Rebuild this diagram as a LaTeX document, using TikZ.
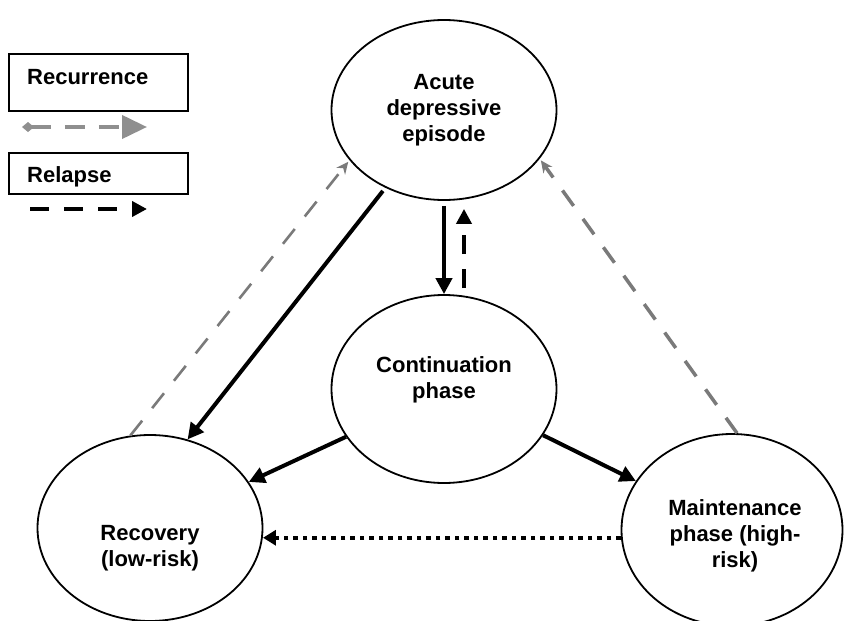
\documentclass[tikz,border=0pt]{standalone}
\usepackage{fontspec}
\setmainfont{Liberation Sans}
\usetikzlibrary{shapes.geometric,arrows.meta}

\definecolor{recurgrey}{gray}{0.48}
\definecolor{keygrey}{gray}{0.56}

\tikzset{
  phase/.style={draw, ellipse, line width=1.8pt, inner sep=0pt},
  lbl/.style={font=\bfseries\fontsize{22}{26}\selectfont, align=center, inner sep=0pt},
  keytxt/.style={font=\bfseries\fontsize{22}{26}\selectfont, anchor=base west, inner sep=0pt},
  keybox/.style={draw, line width=1.8pt, minimum width=179pt, anchor=north west, inner sep=0pt},
  flow/.style={line width=4pt, -{Triangle[length=16pt,width=16pt]}},
  relapse/.style={line width=4.5pt, dash pattern=on 19pt off 15pt, -{Triangle[length=15pt,width=15pt]}},
  recur/.style={recurgrey, line width=3.5pt, dash pattern=on 19pt off 16pt, -{Stealth[length=12pt,width=11pt]}},
  drop/.style={line width=4.5pt, dash pattern=on 4.5pt off 5pt, -{Triangle[length=13pt,width=15pt]}}
}

\begin{document}
\begin{tikzpicture}[x=1pt,y=-1pt]
   \useasboundingbox[fill=white] (0,0) rectangle (844,621);
   % legend
   \node [keybox, minimum height=57pt] (rec_box) at (8,53) {};
   \node [keytxt] (rec_txt) at (27,84) {Recurrence};
   \coordinate (rec_a) at (22,127);
   \coordinate (rec_b) at (147,127);
   \draw [keygrey, line width=4pt, dash pattern=on 20pt off 14pt,
          {Diamond[length=12pt,width=10pt]}-{Triangle[length=25pt,width=23pt]}] (rec_a) -- (rec_b);
   \node [keybox, minimum height=41pt] (rel_box) at (8,152) {};
   \node [keytxt] (rel_txt) at (27,182) {Relapse};
   \coordinate (rel_a) at (30,209);
   \coordinate (rel_b) at (147,209);
   \draw [relapse] (rel_a) -- (rel_b);
   % phases
   \node [phase, minimum width=225pt, minimum height=180pt] (acute) at (444,110) {};
   \node [phase, minimum width=225pt, minimum height=188pt] (cont) at (444,389) {};
   \node [phase, minimum width=225pt, minimum height=186pt] (recov) at (150,528) {};
   \node [phase, minimum width=221pt, minimum height=192pt] (maint) at (732,530) {};
   \node [lbl] (acute_t) at (acute) {Acute\\depressive\\episode};
   \node [lbl] (cont_t) at (444,380) {Continuation\\phase};
   \node [lbl] (recov_t) at (150,548) {Recovery\\(low-risk)};
   \node [lbl] (maint_t) at (735,536) {Maintenance\\phase (high-\\risk)};
   % transitions
   \draw [flow, shorten <=4pt] (acute.233) -- (recov.67);
   \draw [flow, shorten <=5pt] (acute.south) -- (cont.north);
   \draw [relapse, shorten <=6pt, shorten >=8pt] ([xshift=20pt]cont.north) -- ([xshift=20pt]acute.south);
   \draw [flow] (cont.206) -- (recov.25);
   \draw [flow] (cont.335) -- (maint.153);
   \draw [drop] (maint.184) -- (maint.184 -| recov.356);
   \draw [recur, line width=2.6pt, shorten >=2pt] (recov.102) -- (acute.208);
   \draw [recur, shorten >=2pt] (maint.87) -- (acute.333);
\end{tikzpicture}
\end{document}
